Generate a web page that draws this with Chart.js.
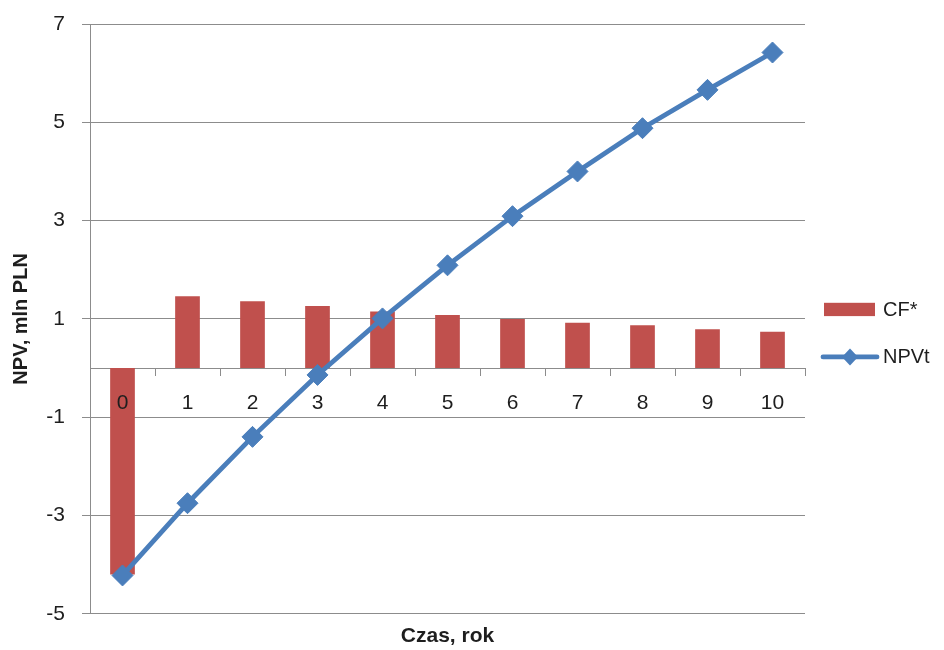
<!DOCTYPE html>
<html>
<head>
<meta charset="utf-8">
<script src="https://cdn.jsdelivr.net/npm/chart.js@4.4.0/dist/chart.umd.min.js"></script>
<style>
  html, body { margin: 0; padding: 0; background: #ffffff; }
  #wrap { width: 944px; height: 650px; }
</style>
</head>
<body>
<div id="wrap"><canvas id="chart" width="944" height="650"></canvas></div>
<script>
// Years of the project and the yearly / cumulative discounted cash flow (mln PLN)
const years = ['0', '1', '2', '3', '4', '5', '6', '7', '8', '9', '10'];
const cashFlow = [-4.20, 1.46, 1.36, 1.26, 1.15, 1.08, 1.00, 0.92, 0.87, 0.79, 0.74];
const npvCumulative = [-4.22, -2.75, -1.40, -0.14, 1.01, 2.09, 3.09, 4.00, 4.88, 5.66, 6.42];
const yTicks = [-5, -3, -1, 1, 3, 5, 7];

const seriesNames = ['CF*', 'NPVt'];

const FONT = '"Liberation Sans", Arial, sans-serif';
const TEXT = '#1e1e1e';
const GRID = '#8c8c8c';
const RED = '#C0504D';
const BLUE = '#4A7EBB';

// Legend at the right: a red block for the bars, a line with a diamond for NPVt
const sideLegend = {
  id: 'sideLegend',
  afterDraw(chart) {
    const { ctx, chartArea } = chart;
    const x0 = chartArea.right;
    const cy = (chartArea.top + chartArea.bottom) / 2;
    ctx.save();
    ctx.font = '20px ' + FONT;
    ctx.textBaseline = 'middle';
    ctx.textAlign = 'left';

    // CF*
    const y1 = cy - 9.5;
    ctx.fillStyle = RED;
    ctx.fillRect(x0 + 19, y1 - 6.6, 51, 13.3);
    ctx.fillStyle = TEXT;
    ctx.fillText(seriesNames[0], x0 + 78, y1 + 1);

    // NPVt
    const y2 = cy + 38;
    ctx.strokeStyle = BLUE;
    ctx.lineWidth = 4.8;
    ctx.lineCap = 'round';
    ctx.beginPath();
    ctx.moveTo(x0 + 18, y2);
    ctx.lineTo(x0 + 72, y2);
    ctx.stroke();
    const dx = x0 + 45;
    ctx.fillStyle = BLUE;
    ctx.beginPath();
    ctx.moveTo(dx - 8, y2);
    ctx.lineTo(dx, y2 - 8.5);
    ctx.lineTo(dx + 8, y2);
    ctx.lineTo(dx, y2 + 8.5);
    ctx.closePath();
    ctx.fill();
    ctx.fillStyle = TEXT;
    ctx.fillText(seriesNames[1], x0 + 78, y2 + 1);
    ctx.restore();
  }
};

new Chart(document.getElementById('chart'), {
  type: 'bar',
  data: {
    labels: years,
    datasets: [
      {
        type: 'line',
        label: seriesNames[1],
        data: npvCumulative,
        order: 0,
        borderColor: BLUE,
        backgroundColor: BLUE,
        borderWidth: 4.8,
        tension: 0,
        pointStyle: 'rectRot',
        pointRadius: 10.5,
        pointHoverRadius: 10.5,
        pointBorderWidth: 1,
        pointBorderColor: BLUE,
        pointBackgroundColor: BLUE
      },
      {
        type: 'bar',
        label: seriesNames[0],
        data: cashFlow,
        order: 1,
        backgroundColor: RED,
        borderWidth: 0,
        categoryPercentage: 0.38,
        barPercentage: 1
      }
    ]
  },
  options: {
    responsive: false,
    animation: false,
    devicePixelRatio: 1,
    layout: { padding: { top: 24, right: 139, bottom: 0, left: 0 } },
    plugins: {
      legend: { display: false },
      tooltip: { enabled: false },
      title: {
        display: true,
        text: 'Czas, rok',
        position: 'bottom',
        fullSize: false,
        color: TEXT,
        font: { family: FONT, size: 21, weight: 'bold' },
        padding: { top: 10, bottom: 1 }
      }
    },
    scales: {
      x: {
        type: 'category',
        position: { y: 0 },
        offset: true,
        grid: {
          display: true,
          offset: true,
          drawOnChartArea: false,
          drawTicks: true,
          tickLength: 7,
          color: GRID
        },
        border: { display: true, color: GRID, width: 1 },
        ticks: {
          z: 1,
          color: TEXT,
          font: { family: FONT, size: 21 },
          padding: 16,
          maxRotation: 0,
          autoSkip: false
        }
      },
      y: {
        min: yTicks[0],
        max: yTicks[yTicks.length - 1],
        afterBuildTicks: (scale) => { scale.ticks = yTicks.map(v => ({ value: v })); },
        afterFit: (scale) => {
          scale.width = 90;
          scale.paddingTop = 0;
          scale.paddingBottom = 0;
        },
        grid: { color: GRID, tickLength: 8, lineWidth: 1 },
        border: { display: true, color: GRID, width: 1 },
        ticks: {
          color: TEXT,
          font: { family: FONT, size: 21 },
          padding: 17
        },
        title: {
          display: true,
          text: 'NPV, mln PLN',
          color: TEXT,
          font: { family: FONT, size: 20, weight: 'bold' },
          padding: { top: 9, bottom: 13 }
        }
      }
    }
  },
  plugins: [sideLegend]
});
</script>
</body>
</html>
